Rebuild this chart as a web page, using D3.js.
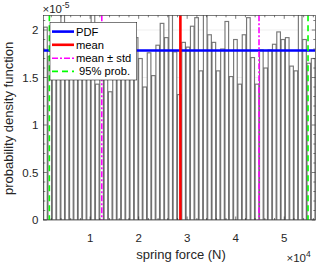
<!DOCTYPE html>
<html><head><meta charset="utf-8">
<script src="https://cdn.jsdelivr.net/npm/d3@7/dist/d3.min.js"></script>
<style>
html,body{margin:0;padding:0;background:#fff;}
svg{display:block;font-family:"Liberation Sans",Arial,Helvetica,sans-serif;}
</style></head>
<body>
<svg id="chart" width="322" height="263"></svg>
<script>
// ---- data (x in N, y in 1e-5 units of pdf) ----
const xLimits = [350, 56400];
const yLimits = [0, 2.155];
const binHeights = [2.03,1.72,1.85,1.95,2.20,1.80,1.70,1.90,1.62,2.00,1.75,2.20,1.43,1.88,1.66,1.35,
  1.92,1.70,1.80,1.48,1.95,1.92,1.70,1.40,1.76,1.52,1.84,2.07,1.92,2.20,1.77,1.32,
  1.87,1.82,2.04,2.13,1.57,2.20,1.95,1.87,1.57,1.80,2.09,1.51,1.90,1.43,1.95,2.13,
  1.71,1.43,1.79,1.60,1.79,1.85,1.98,1.90,1.92,1.62,1.57,2.20,1.90,1.65,1.70];
const pdfValue = 1.785;
const meanValue = 28600;
const stdValue = 16200;
const prob95 = [1600, 54900];
const xTickValues = [1,2,3,4,5];          // x 1e4
const yTickValues = [0,0.5,1,1.5,2];      // x 1e-5
const legendLabels = ["PDF","mean","mean \u00b1 std"," 95% prob."];
const xLabel = "spring force (N)";
const yLabel = "probability density function";

// ---- layout ----
const L = 43.3, R = 315.3, T = 15.3, B = 220;
const svg = d3.select("#chart");
const x = d3.scaleLinear().domain(xLimits).range([L, R]);
const y = d3.scaleLinear().domain(yLimits).range([B, T]);
const axisColor = "#262626";

svg.append("defs").append("clipPath").attr("id","clip")
  .append("rect").attr("x",L).attr("y",T).attr("width",R-L).attr("height",B-T);

// grid
svg.append("g").selectAll("line").data(yTickValues).join("line")
  .attr("x1",L).attr("x2",R).attr("y1",d=>y(d)).attr("y2",d=>y(d))
  .attr("stroke","#e4e4e4").attr("stroke-width",0.6);

// bars
const nb = binHeights.length;
const bw = (xLimits[1]-xLimits[0])/nb;
const plot = svg.append("g").attr("clip-path","url(#clip)");
plot.selectAll("rect.bar").data(binHeights).join("rect")
  .attr("class","bar")
  .attr("x",(d,i)=>x(xLimits[0]+(i+0.08)*bw))
  .attr("width",(d,i)=>x(xLimits[0]+(i+0.92)*bw)-x(xLimits[0]+(i+0.08)*bw))
  .attr("y",d=>y(d)).attr("height",d=>B-y(d))
  .attr("fill","#fff").attr("stroke","#555").attr("stroke-opacity",0.8).attr("stroke-width",1.15);

// PDF line
plot.append("line").attr("x1",L).attr("x2",R).attr("y1",y(pdfValue)).attr("y2",y(pdfValue))
  .attr("stroke","#0000ff").attr("stroke-width",2.6);
// mean
plot.append("line").attr("x1",x(meanValue)).attr("x2",x(meanValue)).attr("y1",T).attr("y2",B)
  .attr("stroke","#ff0000").attr("stroke-width",2.6);
// mean ± std
[meanValue-stdValue, meanValue+stdValue].forEach(v=>{
  plot.append("line").attr("x1",x(v)).attr("x2",x(v)).attr("y1",T).attr("y2",B)
    .attr("stroke","#ff00ff").attr("stroke-width",1.6).attr("stroke-dasharray","6,2,2,2");
});
// 95%
prob95.forEach(v=>{
  plot.append("line").attr("x1",x(v)).attr("x2",x(v)).attr("y1",T).attr("y2",B)
    .attr("stroke","#00ff00").attr("stroke-width",1.6).attr("stroke-dasharray","6,4");
});

// axes box
svg.append("rect").attr("x",L).attr("y",T).attr("width",R-L).attr("height",B-T)
  .attr("fill","none").attr("stroke",axisColor).attr("stroke-width",0.6);

// ticks (inward, all four sides)
const tk = svg.append("g").attr("stroke",axisColor).attr("stroke-width",0.6);
const xMinor = d3.range(0, 5.81, 0.2).map(v=>+v.toFixed(1)).filter(v=>v*1e4>=xLimits[0] && v*1e4<=xLimits[1]);
xMinor.forEach(v=>{
  const isMaj = xTickValues.includes(v);
  const len = isMaj ? 3.5 : 2;
  const px = x(v*1e4);
  tk.append("line").attr("x1",px).attr("x2",px).attr("y1",B).attr("y2",B-len);
  tk.append("line").attr("x1",px).attr("x2",px).attr("y1",T).attr("y2",T+len);
});
const yMinor = d3.range(0, 2.16, 0.1).map(v=>+v.toFixed(1)).filter(v=>v<=yLimits[1]);
yMinor.forEach(v=>{
  const isMaj = yTickValues.includes(v);
  const len = isMaj ? 3.5 : 2;
  const py = y(v);
  tk.append("line").attr("x1",L).attr("x2",L+len).attr("y1",py).attr("y2",py);
  tk.append("line").attr("x1",R).attr("x2",R-len).attr("y1",py).attr("y2",py);
});

// tick labels
svg.append("g").selectAll("text").data(xTickValues).join("text")
  .attr("x",d=>x(d*1e4)).attr("y",241.8).attr("text-anchor","middle")
  .attr("font-size",11.5).attr("fill",axisColor).text(d=>d);
svg.append("g").selectAll("text").data(yTickValues).join("text")
  .attr("x",L-5).attr("y",d=>y(d)+4).attr("text-anchor","end")
  .attr("font-size",11.5).attr("fill",axisColor).text(d=>d);

// exponent labels
const ey = svg.append("text").attr("x",42.5).attr("y",12.5).attr("font-size",11.5).attr("fill",axisColor);
ey.append("tspan").text("\u00d710");
ey.append("tspan").attr("dy",-5).attr("font-size",8.5).text("-5");
const ex = svg.append("text").attr("x",286.5).attr("y",262.3).attr("font-size",11.5).attr("fill",axisColor);
ex.append("tspan").text("\u00d710");
ex.append("tspan").attr("dy",-5.5).attr("font-size",8.5).text("4");

// axis labels
svg.append("text").attr("x",181).attr("y",259).attr("text-anchor","middle")
  .attr("font-size",13).attr("fill",axisColor).text(xLabel);
svg.append("text").attr("transform","translate(12.5,118.5) rotate(-90)").attr("text-anchor","middle")
  .attr("font-size",13).attr("fill",axisColor).text(yLabel);

// legend
const lg = svg.append("g");
lg.append("rect").attr("x",50).attr("y",22.3).attr("width",86.7).attr("height",57.7)
  .attr("fill","#fff").attr("stroke",axisColor).attr("stroke-width",0.6);
const rowsY = [31.6, 44.8, 58.2, 71.4];
const styles = [
  {c:"#0000ff", w:2.6, d:null},
  {c:"#ff0000", w:2.6, d:null},
  {c:"#ff00ff", w:1.6, d:"6,2,2,2"},
  {c:"#00ff00", w:1.6, d:"6,4"}
];
legendLabels.forEach((lab,i)=>{
  const s = styles[i];
  const ln = lg.append("line").attr("x1",52).attr("x2",74).attr("y1",rowsY[i]).attr("y2",rowsY[i])
    .attr("stroke",s.c).attr("stroke-width",s.w);
  if (s.d) ln.attr("stroke-dasharray",s.d);
  lg.append("text").attr("x",76).attr("y",rowsY[i]+4).attr("font-size",11.2)
    .attr("fill","#000").attr("xml:space","preserve").style("white-space","pre").text(lab);
});
</script>
</body></html>
